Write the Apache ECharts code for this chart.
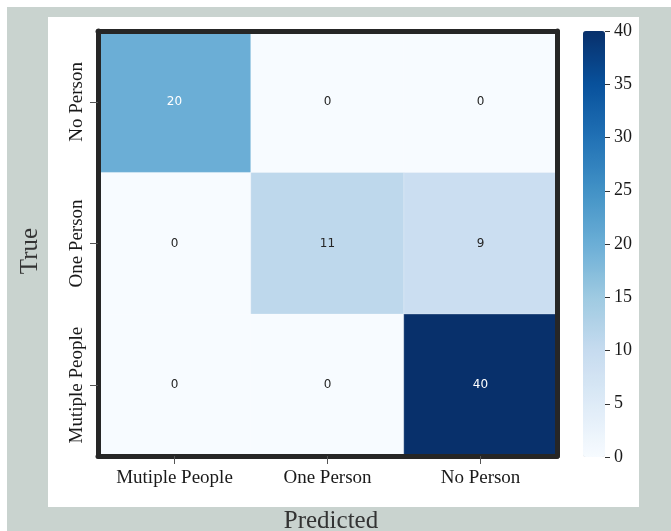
<!DOCTYPE html>
<html>
<head>
<meta charset="utf-8">
<script src="https://cdn.jsdelivr.net/npm/echarts@6/dist/echarts.min.js"></script>
<style>
  html, body { margin: 0; padding: 0; background: #ffffff; }
  #chart { width: 671px; height: 531px; }
</style>
</head>
<body>
<div id="chart"></div>
<script>
// Confusion matrix: rows are true classes, columns are predicted classes
const predictedLabels = ['Mutiple People', 'One Person', 'No Person'];
const trueLabels = ['No Person', 'One Person', 'Mutiple People'];
const rowNoPerson = [20, 0, 0];
const rowOnePerson = [0, 11, 9];
const rowMultiple = [0, 0, 40];
const colorbarTicks = [0, 5, 10, 15, 20, 25, 30, 35, 40];

const matrix = [rowNoPerson, rowOnePerson, rowMultiple];
const vmin = 0, vmax = 40;

// matplotlib "Blues" colour stops
const blues = ['#f7fbff', '#deebf7', '#c6dbef', '#9ecae1', '#6baed6',
               '#4292c6', '#2171b5', '#08519c', '#08306b'];

const cells = [];
matrix.forEach((row, r) => {
  row.forEach((v, c) => {
    cells.push({
      value: [c, r, v],
      label: { color: v >= 20 ? '#ffffff' : '#262626' }
    });
  });
});

const serif = '"Liberation Serif", "Times New Roman", serif';
const frame = { show: true, onZero: false, lineStyle: { color: '#262626', width: 5 } };

const chart = echarts.init(document.getElementById('chart'), null, { renderer: 'canvas' });
chart.setOption({
  backgroundColor: '#ffffff',
  animation: false,
  graphic: [
    { type: 'rect', z: -10, shape: { x: 7, y: 7, width: 664, height: 524 }, style: { fill: '#c9d3cf' } },
    { type: 'rect', z: -9, shape: { x: 48, y: 17, width: 591, height: 490 }, style: { fill: '#ffffff' } },
    { type: 'text', z: 5, x: 331, y: 509,
      style: { text: 'Predicted', font: '25px ' + serif, fill: '#333333', align: 'center', verticalAlign: 'top' } },
    { type: 'text', z: 5, x: 18, y: 251, rotation: Math.PI / 2,
      style: { text: 'True', font: '25px ' + serif, fill: '#333333', align: 'center', verticalAlign: 'top' } }
  ],
  grid: [
    { left: 98, top: 31, width: 459, height: 425 },
    { left: 583, top: 31, width: 22, height: 426 }
  ],
  xAxis: [
    { type: 'category', gridIndex: 0, data: predictedLabels, position: 'bottom', z: 10,
      axisLine: frame,
      axisTick: { show: true, alignWithLabel: true, length: 8, lineStyle: { color: '#555' } },
      axisLabel: { fontFamily: serif, fontSize: 19, color: '#1a1a1a', margin: 13, interval: 0 },
      splitLine: { show: false } },
    { type: 'category', gridIndex: 0, data: predictedLabels, position: 'top', z: 10,
      axisLine: frame, axisTick: { show: false }, axisLabel: { show: false } },
    { type: 'value', gridIndex: 1, show: false, min: 0, max: 1 }
  ],
  yAxis: [
    { type: 'category', gridIndex: 0, data: trueLabels, inverse: true, position: 'left', z: 10,
      axisLine: frame,
      axisTick: { show: true, alignWithLabel: true, length: 8, lineStyle: { color: '#555' } },
      axisLabel: { fontFamily: serif, fontSize: 19, color: '#1a1a1a', rotate: 90, margin: 11, interval: 0 },
      splitLine: { show: false } },
    { type: 'category', gridIndex: 0, data: trueLabels, inverse: true, position: 'right', z: 10,
      axisLine: frame, axisTick: { show: false }, axisLabel: { show: false } },
    { type: 'value', gridIndex: 1, position: 'right', min: vmin, max: vmax, interval: 5,
      axisLine: { show: false, onZero: false },
      axisTick: { show: true, length: 5, lineStyle: { color: '#333' } },
      axisLabel: { fontFamily: serif, fontSize: 18, color: '#1a1a1a', margin: 9,
        formatter: v => colorbarTicks.includes(v) ? String(v) : '' },
      splitLine: { show: false } }
  ],
  visualMap: {
    type: 'continuous', seriesIndex: 0, min: vmin, max: vmax,
    left: 583, top: 31, itemWidth: 22, itemHeight: 426, padding: 0,
    calculable: false, text: null, showLabel: false,
    inRange: { color: blues }
  },
  series: [{
    type: 'heatmap', xAxisIndex: 0, yAxisIndex: 0,
    data: cells,
    itemStyle: { borderColor: 'rgba(255,255,255,0.5)', borderWidth: 0.5 },
    label: { show: true, fontFamily: '"DejaVu Sans", sans-serif', fontSize: 12,
      formatter: p => String(p.value[2]) },
    emphasis: { disabled: true }
  }]
});
</script>
</body>
</html>
